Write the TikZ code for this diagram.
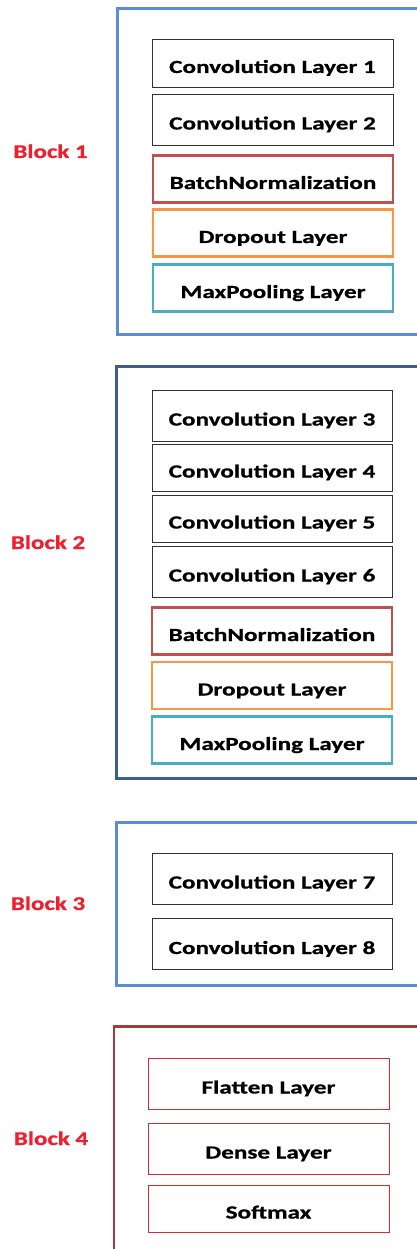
\documentclass[tikz,border=0pt]{standalone}
\usepackage{fontspec}
\setmainfont{Carlito}
\newfontfamily\layerfont[FakeStretch=1.36,FakeBold=0.8]{Carlito}
\newfontfamily\blockfont[FakeStretch=1.28,FakeBold=0.8]{Carlito}
\begin{document}
\begin{tikzpicture}[x=1pt,y=-1pt,
  frame/.style={line width=2.6pt},
  boxtext/.style={font=\layerfont\bfseries\fontsize{18.5}{22}\selectfont, inner sep=0pt, text height=20pt, text depth=0pt},
  layer/.style={boxtext, draw=black!80, line width=0.9pt},
  clayer/.style={boxtext, line width=2.2pt},
  rlayer/.style={boxtext, draw=redbox, line width=1pt},
  blocklabel/.style={text=blocktxt, anchor=base, inner sep=0pt, font=\blockfont\bfseries\fontsize{19.5}{24}\selectfont}]
\definecolor{blueframe}{HTML}{5A8DD3}
\definecolor{navyframe}{HTML}{3E5F88}
\definecolor{maroonframe}{HTML}{A03C3C}
\definecolor{bnred}{HTML}{C0504D}
\definecolor{dropor}{HTML}{F79646}
\definecolor{poolteal}{HTML}{4BACC6}
\definecolor{redbox}{HTML}{DA2A2E}
\definecolor{blocktxt}{HTML}{EE2030}
\useasboundingbox (0,0) rectangle (417,1249);
\clip (0,0) rectangle (417,1249);

% outer block frames
\draw[frame, blueframe] (430,8.5) -- (117.5,8.5) -- (117.5,334.5) -- (430,334.5);
\draw[frame, navyframe] (430,366.5) -- (116.5,366.5) -- (116.5,778.5) -- (430,778.5);
\draw[frame, blueframe] (430,822.5) -- (116.5,822.5) -- (116.5,985.5) -- (430,985.5);
\draw[frame, maroonframe] (430,1026.5) -- (114,1026.5) -- (114,1260);

% block labels
\node[blocklabel] (b1) at (50.5,158) {Block 1};
\node[blocklabel] (b2) at (48,549) {Block 2};
\node[blocklabel] (b3) at (48,910) {Block 3};
\node[blocklabel] (b4) at (51,1145) {Block 4};

% block 1
\node[layer, minimum width=241pt, minimum height=48pt] (c1) at (272.5,63) {Convolution Layer 1};
\node[layer, minimum width=241pt, minimum height=51pt] (c2) at (272.5,119.5) {Convolution Layer 2};
\node[clayer, draw=bnred, minimum width=240pt, minimum height=47pt] (bn1) at (273,179) {BatchNormalization};
\node[clayer, draw=dropor, minimum width=240pt, minimum height=47pt] (do1) at (273,233) {Dropout Layer};
\node[clayer, draw=poolteal, minimum width=240pt, minimum height=47pt] (mp1) at (273,288) {MaxPooling Layer};

% block 2
\node[layer, minimum width=240pt, minimum height=51pt] (c3) at (272,415.5) {Convolution Layer 3};
\node[layer, minimum width=240pt, minimum height=47pt] (c4) at (272,467.5) {Convolution Layer 4};
\node[layer, minimum width=240pt, minimum height=47pt] (c5) at (272,518.5) {Convolution Layer 5};
\node[layer, minimum width=240pt, minimum height=51pt] (c6) at (272,571.5) {Convolution Layer 6};
\node[clayer, draw=bnred, minimum width=240pt, minimum height=47pt] (bn2) at (272,631) {BatchNormalization};
\node[clayer, draw=dropor, minimum width=240pt, minimum height=47pt] (do2) at (272,685.5) {Dropout Layer};
\node[clayer, draw=poolteal, minimum width=240pt, minimum height=47pt] (mp2) at (272,740) {MaxPooling Layer};

% block 3
\node[layer, minimum width=240pt, minimum height=51pt] (c7) at (272,878.5) {Convolution Layer 7};
\node[layer, minimum width=240pt, minimum height=51pt] (c8) at (272,944) {Convolution Layer 8};

% block 4
\node[rlayer, minimum width=241pt, minimum height=51pt] (fl) at (268.5,1083.5) {Flatten Layer};
\node[rlayer, minimum width=241pt, minimum height=51pt] (de) at (268.5,1148.5) {Dense Layer};
\node[rlayer, minimum width=241pt, minimum height=47pt] (sm) at (268.5,1208.5) {Softmax};
\end{tikzpicture}
\end{document}
